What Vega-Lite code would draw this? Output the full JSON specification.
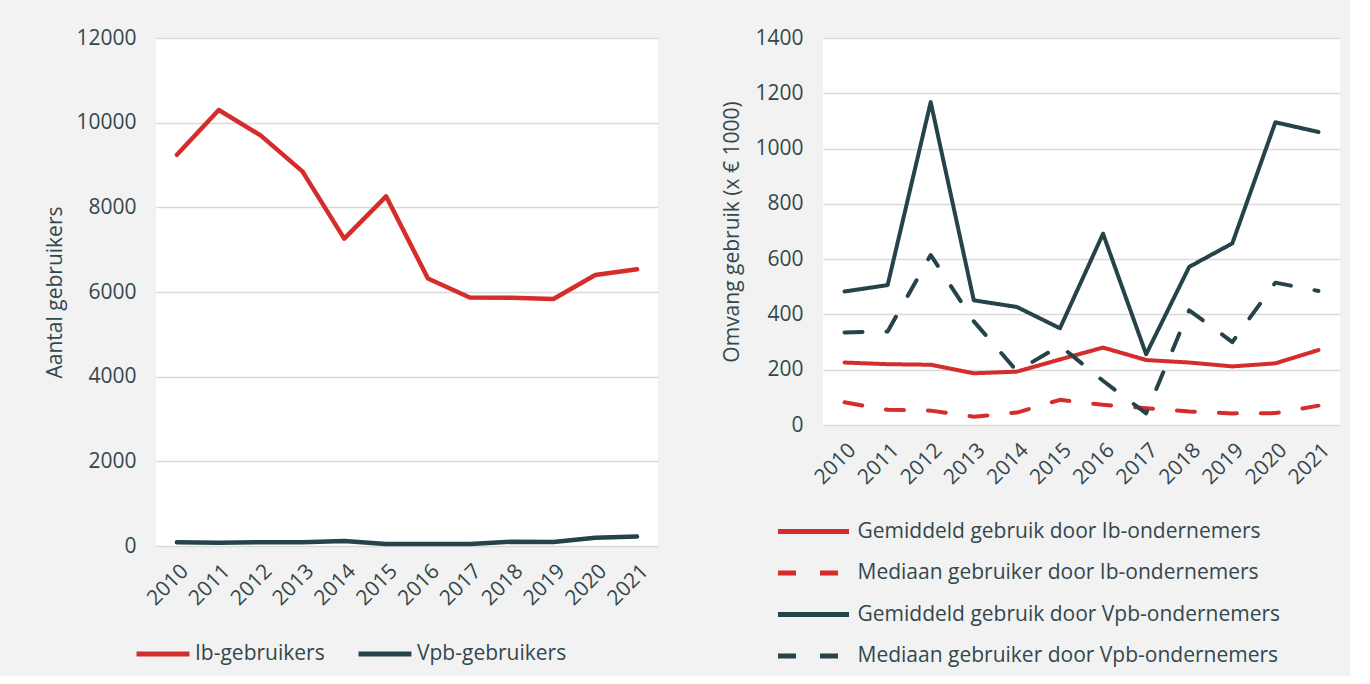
{
  "$schema": "https://vega.github.io/schema/vega-lite/v6.json",
  "background": "#f2f2f2",
  "padding": {"left": 44, "top": 27, "right": 10, "bottom": 10},
  "config": {
    "view": {"fill": "white", "stroke": null},
    "font": "Open Sans",
    "axis": {
      "labelFont": "Open Sans", "labelFontSize": 21, "labelColor": "#33474d",
      "titleFont": "Open Sans", "titleFontSize": 21, "titleColor": "#33474d", "titleFontWeight": "normal",
      "gridColor": "#d9d9d9", "gridWidth": 1.5, "domain": false, "ticks": false
    },
    "legend": {"labelFont": "Open Sans", "labelFontSize": 21, "labelColor": "#33474d", "labelLimit": 600}
  },
  "datasets": {
    "users": [
      {"year": "2010", "series": "Ib-gebruikers", "value": 9240},
      {"year": "2011", "series": "Ib-gebruikers", "value": 10300},
      {"year": "2012", "series": "Ib-gebruikers", "value": 9700},
      {"year": "2013", "series": "Ib-gebruikers", "value": 8850},
      {"year": "2014", "series": "Ib-gebruikers", "value": 7260},
      {"year": "2015", "series": "Ib-gebruikers", "value": 8260},
      {"year": "2016", "series": "Ib-gebruikers", "value": 6320},
      {"year": "2017", "series": "Ib-gebruikers", "value": 5870},
      {"year": "2018", "series": "Ib-gebruikers", "value": 5865},
      {"year": "2019", "series": "Ib-gebruikers", "value": 5835},
      {"year": "2020", "series": "Ib-gebruikers", "value": 6400},
      {"year": "2021", "series": "Ib-gebruikers", "value": 6535},
      {"year": "2010", "series": "Vpb-gebruikers", "value": 90},
      {"year": "2011", "series": "Vpb-gebruikers", "value": 75},
      {"year": "2012", "series": "Vpb-gebruikers", "value": 90},
      {"year": "2013", "series": "Vpb-gebruikers", "value": 90},
      {"year": "2014", "series": "Vpb-gebruikers", "value": 120},
      {"year": "2015", "series": "Vpb-gebruikers", "value": 45},
      {"year": "2016", "series": "Vpb-gebruikers", "value": 50},
      {"year": "2017", "series": "Vpb-gebruikers", "value": 50},
      {"year": "2018", "series": "Vpb-gebruikers", "value": 100},
      {"year": "2019", "series": "Vpb-gebruikers", "value": 95},
      {"year": "2020", "series": "Vpb-gebruikers", "value": 195},
      {"year": "2021", "series": "Vpb-gebruikers", "value": 225}
    ],
    "usage": [
      {"year": "2010", "series": "Gemiddeld gebruik door Ib-ondernemers", "value": 226},
      {"year": "2011", "series": "Gemiddeld gebruik door Ib-ondernemers", "value": 220},
      {"year": "2012", "series": "Gemiddeld gebruik door Ib-ondernemers", "value": 218},
      {"year": "2013", "series": "Gemiddeld gebruik door Ib-ondernemers", "value": 187},
      {"year": "2014", "series": "Gemiddeld gebruik door Ib-ondernemers", "value": 193},
      {"year": "2015", "series": "Gemiddeld gebruik door Ib-ondernemers", "value": 237},
      {"year": "2016", "series": "Gemiddeld gebruik door Ib-ondernemers", "value": 280},
      {"year": "2017", "series": "Gemiddeld gebruik door Ib-ondernemers", "value": 235},
      {"year": "2018", "series": "Gemiddeld gebruik door Ib-ondernemers", "value": 226},
      {"year": "2019", "series": "Gemiddeld gebruik door Ib-ondernemers", "value": 212},
      {"year": "2020", "series": "Gemiddeld gebruik door Ib-ondernemers", "value": 223},
      {"year": "2021", "series": "Gemiddeld gebruik door Ib-ondernemers", "value": 271},
      {"year": "2010", "series": "Mediaan gebruiker door Ib-ondernemers", "value": 82},
      {"year": "2011", "series": "Mediaan gebruiker door Ib-ondernemers", "value": 55},
      {"year": "2012", "series": "Mediaan gebruiker door Ib-ondernemers", "value": 52},
      {"year": "2013", "series": "Mediaan gebruiker door Ib-ondernemers", "value": 30},
      {"year": "2014", "series": "Mediaan gebruiker door Ib-ondernemers", "value": 45},
      {"year": "2015", "series": "Mediaan gebruiker door Ib-ondernemers", "value": 91},
      {"year": "2016", "series": "Mediaan gebruiker door Ib-ondernemers", "value": 73},
      {"year": "2017", "series": "Mediaan gebruiker door Ib-ondernemers", "value": 61},
      {"year": "2018", "series": "Mediaan gebruiker door Ib-ondernemers", "value": 49},
      {"year": "2019", "series": "Mediaan gebruiker door Ib-ondernemers", "value": 42},
      {"year": "2020", "series": "Mediaan gebruiker door Ib-ondernemers", "value": 43},
      {"year": "2021", "series": "Mediaan gebruiker door Ib-ondernemers", "value": 70},
      {"year": "2010", "series": "Gemiddeld gebruik door Vpb-ondernemers", "value": 483},
      {"year": "2011", "series": "Gemiddeld gebruik door Vpb-ondernemers", "value": 506},
      {"year": "2012", "series": "Gemiddeld gebruik door Vpb-ondernemers", "value": 1168},
      {"year": "2013", "series": "Gemiddeld gebruik door Vpb-ondernemers", "value": 451},
      {"year": "2014", "series": "Gemiddeld gebruik door Vpb-ondernemers", "value": 427},
      {"year": "2015", "series": "Gemiddeld gebruik door Vpb-ondernemers", "value": 350},
      {"year": "2016", "series": "Gemiddeld gebruik door Vpb-ondernemers", "value": 692},
      {"year": "2017", "series": "Gemiddeld gebruik door Vpb-ondernemers", "value": 256},
      {"year": "2018", "series": "Gemiddeld gebruik door Vpb-ondernemers", "value": 572},
      {"year": "2019", "series": "Gemiddeld gebruik door Vpb-ondernemers", "value": 657},
      {"year": "2020", "series": "Gemiddeld gebruik door Vpb-ondernemers", "value": 1095},
      {"year": "2021", "series": "Gemiddeld gebruik door Vpb-ondernemers", "value": 1060},
      {"year": "2010", "series": "Mediaan gebruiker door Vpb-ondernemers", "value": 335},
      {"year": "2011", "series": "Mediaan gebruiker door Vpb-ondernemers", "value": 338},
      {"year": "2012", "series": "Mediaan gebruiker door Vpb-ondernemers", "value": 615},
      {"year": "2013", "series": "Mediaan gebruiker door Vpb-ondernemers", "value": 375},
      {"year": "2014", "series": "Mediaan gebruiker door Vpb-ondernemers", "value": 195},
      {"year": "2015", "series": "Mediaan gebruiker door Vpb-ondernemers", "value": 287},
      {"year": "2016", "series": "Mediaan gebruiker door Vpb-ondernemers", "value": 160},
      {"year": "2017", "series": "Mediaan gebruiker door Vpb-ondernemers", "value": 42},
      {"year": "2018", "series": "Mediaan gebruiker door Vpb-ondernemers", "value": 415},
      {"year": "2019", "series": "Mediaan gebruiker door Vpb-ondernemers", "value": 300},
      {"year": "2020", "series": "Mediaan gebruiker door Vpb-ondernemers", "value": 515},
      {"year": "2021", "series": "Mediaan gebruiker door Vpb-ondernemers", "value": 485}
    ]
  },
  "spacing": 63,
  "resolve": {"scale": {"color": "independent", "strokeDash": "independent", "x": "independent", "y": "independent"}, "legend": {"color": "independent", "strokeDash": "independent"}},
  "hconcat": [
    {
      "width": 502,
      "height": 508,
      "data": {"name": "users"},
      "mark": {"type": "line", "strokeWidth": 4.5, "strokeCap": "round", "strokeJoin": "round"},
      "encoding": {
        "x": {"field": "year", "type": "ordinal", "scale": {"type": "point", "padding": 0.5},
              "axis": {"title": null, "labelAngle": -45, "labelPadding": 14, "grid": false}},
        "y": {"field": "value", "type": "quantitative", "scale": {"domain": [0, 12000], "nice": false},
              "axis": {"title": "Aantal gebruikers", "values": [0, 2000, 4000, 6000, 8000, 10000, 12000], "format": "d", "labelPadding": 20, "titlePadding": 10}},
        "color": {"field": "series", "type": "nominal",
                  "scale": {"domain": ["Ib-gebruikers", "Vpb-gebruikers"], "range": ["#d42d2b", "#26434a"]},
                  "legend": {"title": null, "orient": "none", "direction": "horizontal", "legendX": -22, "legendY": 587,
                             "symbolType": "stroke", "symbolSize": 2800, "symbolStrokeWidth": 5, "columnPadding": 23, "labelOffset": 3}}
      }
    },
    {
      "width": 517,
      "height": 387,
      "data": {"name": "usage"},
      "mark": {"type": "line", "strokeWidth": 4, "strokeCap": "round", "strokeJoin": "round"},
      "encoding": {
        "x": {"field": "year", "type": "ordinal", "scale": {"type": "point", "padding": 0.5},
              "axis": {"title": null, "labelAngle": -45, "labelPadding": 14, "grid": false}},
        "y": {"field": "value", "type": "quantitative", "scale": {"domain": [0, 1400], "nice": false},
              "axis": {"title": "Omvang gebruik (x € 1000)", "values": [0, 200, 400, 600, 800, 1000, 1200, 1400], "format": "d", "labelPadding": 20, "titlePadding": 12}},
        "color": {"field": "series", "type": "nominal",
                  "scale": {"domain": ["Gemiddeld gebruik door Ib-ondernemers", "Mediaan gebruiker door Ib-ondernemers", "Gemiddeld gebruik door Vpb-ondernemers", "Mediaan gebruiker door Vpb-ondernemers"],
                            "range": ["#d42d2b", "#d42d2b", "#26434a", "#26434a"]},
                  "legend": {"title": null, "orient": "none", "direction": "vertical", "legendX": -30, "legendY": 473,
                             "symbolType": "M-2,0H2", "symbolSize": 1260, "symbolStrokeWidth": 5, "rowPadding": 10.5, "labelOffset": 23.5}},
        "strokeDash": {"field": "series", "type": "nominal",
                  "scale": {"domain": ["Gemiddeld gebruik door Ib-ondernemers", "Mediaan gebruiker door Ib-ondernemers", "Gemiddeld gebruik door Vpb-ondernemers", "Mediaan gebruiker door Vpb-ondernemers"],
                            "range": [[1, 0], [18, 24], [1, 0], [18, 24]]},
                  "legend": {"title": null, "orient": "none", "direction": "vertical", "legendX": -30, "legendY": 473,
                             "symbolType": "M-2,0H2", "symbolSize": 1260, "symbolStrokeWidth": 5, "rowPadding": 10.5, "labelOffset": 23.5}}
      }
    }
  ]
}
